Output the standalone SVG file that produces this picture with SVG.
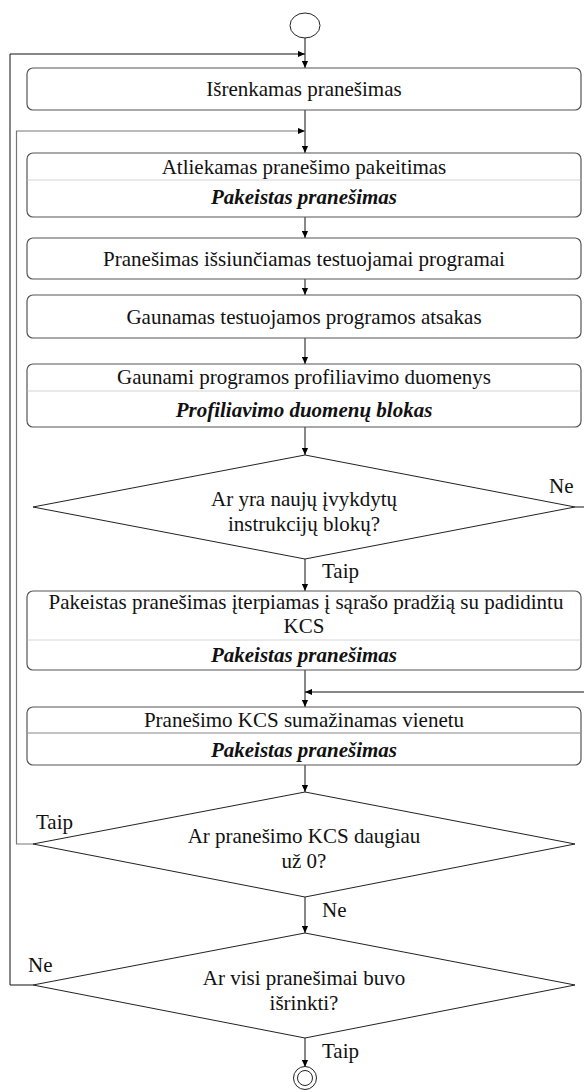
<svg xmlns="http://www.w3.org/2000/svg" width="584" height="1092" viewBox="0 0 584 1092" font-family="'Liberation Serif', Tinos, 'DejaVu Serif', 'Times New Roman', serif">
  <defs>
    <marker id="arrow" viewBox="0 0 8 8" refX="8" refY="4" markerWidth="7" markerHeight="7" markerUnits="userSpaceOnUse" orient="auto">
      <path d="M0,0.5 L8,4 L0,7.5 Z" fill="#000"/>
    </marker>
    <style>
      .box { fill: #fff; stroke: #555; stroke-width: 1.2; }
      .div { stroke: #d4d4d4; stroke-width: 1; }
      .div-dark { stroke: #888; stroke-width: 1.2; }
      .dia { fill: #fff; stroke: #222; stroke-width: 1; }
      .term { fill: #fff; stroke: #222; stroke-width: 1; }
      .line { fill: none; stroke: #111; stroke-width: 1; }
      .line-gray { fill: none; stroke: #777; stroke-width: 1.2; }
      .arr { marker-end: url(#arrow); }
      .t { font-family: 'Liberation Serif', Tinos, 'DejaVu Serif', 'Times New Roman', serif; font-size: 21px; fill: #111; }
      .c { text-anchor: middle; }
      .bi { font-weight: bold; font-style: italic; }
    </style>
  </defs>

  <!-- connectors -->
  <g id="connectors">
    <line class="line arr" x1="305" y1="37.5" x2="305" y2="68"/>
    <line class="line arr" x1="305" y1="110" x2="305" y2="153"/>
    <line class="line arr" x1="305" y1="217" x2="305" y2="238"/>
    <line class="line arr" x1="305" y1="279" x2="305" y2="295"/>
    <line class="line arr" x1="305" y1="338" x2="305" y2="364"/>
    <line class="line arr" x1="305" y1="427" x2="305" y2="455"/>
    <line class="line arr" x1="305" y1="559" x2="305" y2="591"/>
    <line class="line arr" x1="305" y1="670" x2="305" y2="707"/>
    <line class="line arr" x1="305" y1="765" x2="305" y2="792"/>
    <line class="line arr" x1="305" y1="897" x2="305" y2="933"/>
    <line class="line arr" x1="305" y1="1038" x2="305" y2="1067"/>
    <!-- "Ne" branch of the first decision leaves to the right and returns above the KCS step -->
    <line class="line" x1="575" y1="507" x2="584" y2="507"/>
    <line class="line arr" x1="584" y1="692" x2="305" y2="692"/>
    <!-- "Taip" loop back to the message change step -->
    <polyline class="line-gray arr" points="33,844 16.5,844 16.5,131 305,131"/>
    <!-- "Ne" loop back to message selection -->
    <polyline class="line arr" points="33,985 10,985 10,54 305,54"/>
  </g>

  <g id="start">
    <ellipse class="term" cx="305" cy="25.5" rx="15" ry="12.5"/>
  </g>

  <g id="select">
    <rect class="box" x="27" y="68" width="554" height="42" rx="6"/>
    <text class="t c" x="304" y="96">Išrenkamas pranešimas</text>
  </g>

  <g id="modify">
    <rect class="box" x="27" y="153" width="554" height="64" rx="6"/>
    <line class="div" x1="27.6" y1="180" x2="580.4" y2="180"/>
    <text class="t c" x="304" y="174">Atliekamas pranešimo pakeitimas</text>
    <text class="t c bi" x="304" y="204">Pakeistas pranešimas</text>
  </g>

  <g id="send">
    <rect class="box" x="27" y="238" width="554" height="41" rx="6"/>
    <text class="t c" x="304" y="266">Pranešimas išsiunčiamas testuojamai programai</text>
  </g>

  <g id="response">
    <rect class="box" x="27" y="295" width="554" height="43" rx="6"/>
    <text class="t c" x="304" y="324">Gaunamas testuojamos programos atsakas</text>
  </g>

  <g id="profiling">
    <rect class="box" x="27" y="364" width="554" height="63" rx="6"/>
    <line class="div" x1="27.6" y1="391" x2="580.4" y2="391"/>
    <text class="t c" x="304" y="384">Gaunami programos profiliavimo duomenys</text>
    <text class="t c bi" x="304" y="417">Profiliavimo duomenų blokas</text>
  </g>

  <g id="new-blocks">
    <polygon class="dia" points="305,455 575,507 305,559 33,507"/>
    <text class="t c" x="304" y="506">Ar yra naujų įvykdytų</text>
    <text class="t c" x="304" y="531">instrukcijų blokų?</text>
    <text class="t" x="549" y="493">Ne</text>
    <text class="t" x="322" y="578">Taip</text>
  </g>

  <g id="insert">
    <rect class="box" x="27" y="591" width="554" height="79" rx="6"/>
    <line class="div" x1="27.6" y1="640" x2="580.4" y2="640"/>
    <text class="t c" x="306" y="609">Pakeistas pranešimas įterpiamas į sąrašo pradžią su padidintu</text>
    <text class="t c" x="304" y="633">KCS</text>
    <text class="t c bi" x="304" y="662">Pakeistas pranešimas</text>
  </g>

  <g id="decrement">
    <rect class="box" x="27" y="707" width="554" height="58" rx="6"/>
    <line class="div-dark" x1="27.6" y1="733" x2="580.4" y2="733"/>
    <text class="t c" x="304" y="727">Pranešimo KCS sumažinamas vienetu</text>
    <text class="t c bi" x="304" y="757">Pakeistas pranešimas</text>
  </g>

  <g id="kcs-check">
    <polygon class="dia" points="305,792 575,844 305,897 33,844"/>
    <text class="t c" x="304" y="843">Ar pranešimo KCS daugiau</text>
    <text class="t c" x="304" y="868">už 0?</text>
    <text class="t" x="36" y="829">Taip</text>
    <text class="t" x="322" y="917">Ne</text>
  </g>

  <g id="all-selected">
    <polygon class="dia" points="305,933 575,985 305,1038 33,985"/>
    <text class="t c" x="304" y="985">Ar visi pranešimai buvo</text>
    <text class="t c" x="304" y="1010">išrinkti?</text>
    <text class="t" x="28" y="972">Ne</text>
    <text class="t" x="322" y="1058">Taip</text>
  </g>

  <g id="end">
    <circle class="term" cx="305" cy="1078" r="11.5"/>
    <circle class="term" cx="305" cy="1078" r="7.5"/>
  </g>
</svg>
